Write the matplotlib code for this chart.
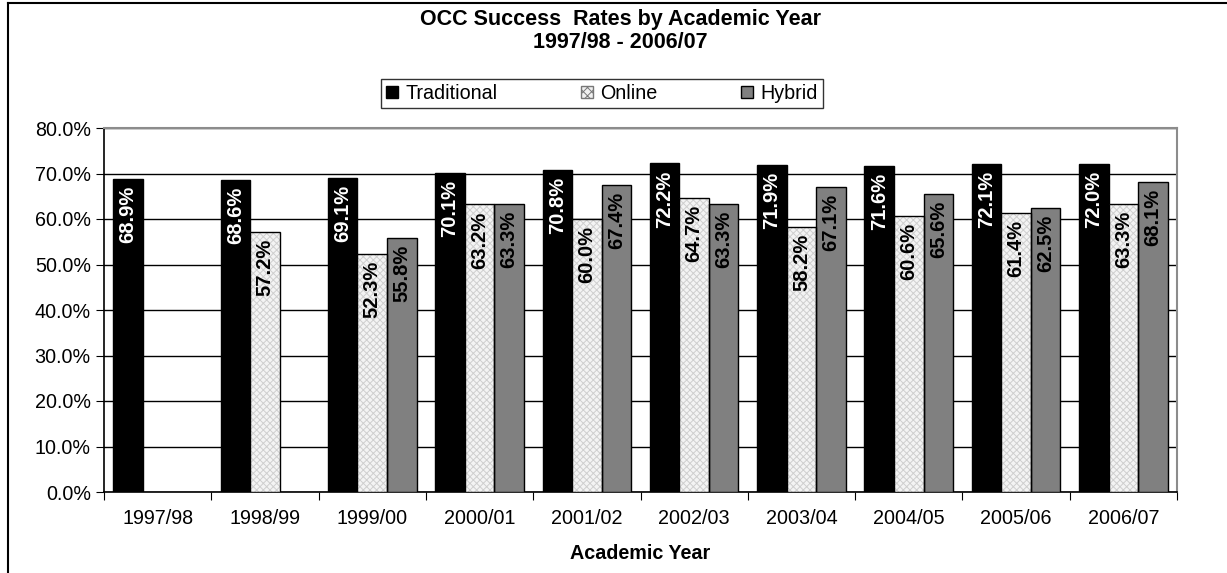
import matplotlib.pyplot as plt
from matplotlib.lines import Line2D
from matplotlib.patches import Patch
import numpy as np

plt.rcParams['font.family'] = ['Liberation Sans', 'DejaVu Sans']
plt.rcParams['hatch.linewidth'] = 0.7

years = ["1997/98", "1998/99", "1999/00", "2000/01", "2001/02",
         "2002/03", "2003/04", "2004/05", "2005/06", "2006/07"]
traditional = [68.9, 68.6, 69.1, 70.1, 70.8, 72.2, 71.9, 71.6, 72.1, 72.0]
online = [np.nan, 57.2, 52.3, 63.2, 60.0, 64.7, 58.2, 60.6, 61.4, 63.3]
hybrid = [np.nan, np.nan, 55.8, 63.3, 67.4, 63.3, 67.1, 65.6, 62.5, 68.1]

W, H = 1227, 573
fig = plt.figure(figsize=(W / 100, H / 100), dpi=100)
ax = fig.add_axes([104 / W, 1 - 492 / H, (1177 - 104) / W, (492 - 128) / H])

x = np.arange(len(years))
bw = 0.275

# traditional
ax.bar(x - bw, traditional, bw, color="black", edgecolor="black", linewidth=1, zorder=3)
# online: hatched fill then outline
ax.bar(x, online, bw, color="#f4f4f4", edgecolor="#cfcfcf", hatch="xxxxx", linewidth=0, zorder=3)
ax.bar(x, online, bw, fill=False, edgecolor="black", linewidth=1, zorder=4)
# hybrid
ax.bar(x + bw, hybrid, bw, color="#808080", edgecolor="black", linewidth=1, zorder=3)

def label(vals, offset, color):
    for xi, v in zip(x, vals):
        if np.isnan(v):
            continue
        ax.annotate(f"{v:.1f}%", (xi + offset, v), xytext=(0, -5), textcoords="offset points",
                    rotation=90, ha="center", va="top", fontsize=14.5, fontweight="bold",
                    color=color, zorder=5)

label(traditional, -bw, "white")
label(online, 0, "black")
label(hybrid, bw, "black")

ax.set_ylim(0, 80)
ax.set_xlim(-0.5, len(years) - 0.5)
ax.set_yticks(np.arange(0, 81, 10))
ax.set_yticklabels([f"{v:.1f}%" for v in range(0, 81, 10)], fontsize=14.2)
ax.set_xticks(np.arange(-0.5, len(years), 1))
ax.set_xticklabels([])
ax.set_xticks(x, minor=True)
ax.set_xticklabels(years, minor=True, fontsize=14.2)
ax.tick_params(axis="x", which="minor", length=0, pad=12)
ax.tick_params(axis="x", which="major", length=6, direction="out")
ax.tick_params(axis="y", length=6, direction="out")
ax.yaxis.grid(True, color="black", linewidth=1, zorder=0)
ax.set_axisbelow(True)
for s in ["top", "right"]:
    ax.spines[s].set_color("#8c8c8c")
    ax.spines[s].set_linewidth(1.5)
ax.spines["left"].set_linewidth(1.2)
ax.spines["bottom"].set_linewidth(1.2)

ax.set_xlabel("Academic Year", fontsize=14.2, fontweight="bold", labelpad=12)

fig.text(620 / W, 1 - 19 / H, "OCC Success  Rates by Academic Year", ha="center", va="center",
         fontsize=15.5, fontweight="bold")
fig.text(620 / W, 1 - 43 / H, "1997/98 - 2006/07", ha="center", va="center",
         fontsize=15.5, fontweight="bold")

handles = [Patch(facecolor="black", edgecolor="black"),
           Patch(facecolor="#f0f0f0", edgecolor="#777777", hatch="xxxx"),
           Patch(facecolor="#808080", edgecolor="black")]
leg = fig.legend(handles, ["Traditional", "Online", "Hybrid"], ncol=3,
                 loc="center", bbox_to_anchor=(602 / W, 1 - 93.5 / H),
                 fontsize=14.2, frameon=True, fancybox=False, handlelength=0.6,
                 handleheight=0.6, handletextpad=0.4, columnspacing=4.2,
                 borderpad=0.25, borderaxespad=0)
leg.get_frame().set_edgecolor("black")
leg.get_frame().set_linewidth(1)

# outer chart frame (top and left edges visible)
fig.add_artist(Line2D([8 / W, 1], [1 - 3 / H, 1 - 3 / H], color="black", linewidth=1.5))
fig.add_artist(Line2D([8 / W, 8 / W], [0, 1 - 3 / H], color="black", linewidth=1.5))

fig.savefig("out.png", dpi=100)
